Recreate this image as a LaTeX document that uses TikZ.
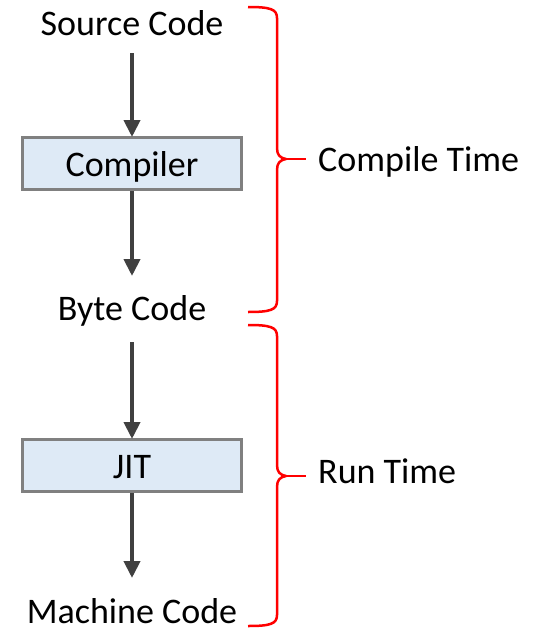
\documentclass[tikz,border=0pt]{standalone}
\usepackage{fontspec}
\setmainfont{Carlito}
\usetikzlibrary{arrows.meta}
\definecolor{boxfill}{RGB}{222,234,246}
\definecolor{boxline}{RGB}{128,128,128}
\definecolor{flowline}{RGB}{64,64,64}
\tikzset{
  x=1pt, y=-1pt,
  lbl/.style={font=\fontsize{36}{43}\selectfont, inner sep=0pt},
  stage/.style={draw=boxline, line width=3pt, fill=boxfill,
    minimum width=219pt, minimum height=52pt, inner sep=0pt,
    text height=25pt, text depth=0pt, font=\fontsize{36}{43}\selectfont},
  flow/.style={draw=flowline, line width=4pt,
    -{Triangle[length=17pt,width=16pt]}, shorten >=-1pt},
  bracket/.style={draw=red, line width=2.5pt, line join=round}
}
\begin{document}
\begin{tikzpicture}
\useasboundingbox (0,0) rectangle (537,629);

% pipeline stages
\node[lbl, anchor=base] (src) at (132,35) {Source Code};
\node[stage] (comp) at (132,163.5) {Compiler};
\node[lbl, anchor=base] (byte) at (132,320) {Byte Code};
\node[stage] (jit) at (132,465.5) {JIT};
\node[lbl, anchor=base, text depth=0pt] (mach) at (132,623) {Machine Code};

% flow arrows
\coordinate (a1) at (132,53);
\coordinate (a2) at (132,342);
\coordinate (b1) at (132,275);
\coordinate (b2) at (132,577);
\draw[flow] (a1) -- (comp.north);
\draw[flow] (comp.south) -- (b1);
\draw[flow] (a2) -- (jit.north);
\draw[flow] (jit.south) -- (b2);

% phase labels
\node[lbl, anchor=base west] (ct) at (318,171) {Compile Time};
\node[lbl, anchor=base west] (rt) at (318,483) {Run Time};

% braces with their pointers
\coordinate (ctip) at (306,159);
\coordinate (rtip) at (306,476);
\draw[bracket] (248,7) .. controls (270,7) and (277,9) .. (277,18)
  -- (277,148) .. controls (277,155) and (280,158) .. (286,159)
  .. controls (280,160) and (277,163) .. (277,170)
  -- (277,301) .. controls (277,310) and (270,312) .. (248,312);
\draw[bracket] (286,159) -- (ctip);
\draw[bracket] (248,325) .. controls (270,325) and (277,327) .. (277,336)
  -- (277,465) .. controls (277,472) and (280,475) .. (286,476)
  .. controls (280,477) and (277,480) .. (277,487)
  -- (277,615) .. controls (277,624) and (270,626) .. (248,626);
\draw[bracket] (286,476) -- (rtip);
\end{tikzpicture}
\end{document}
